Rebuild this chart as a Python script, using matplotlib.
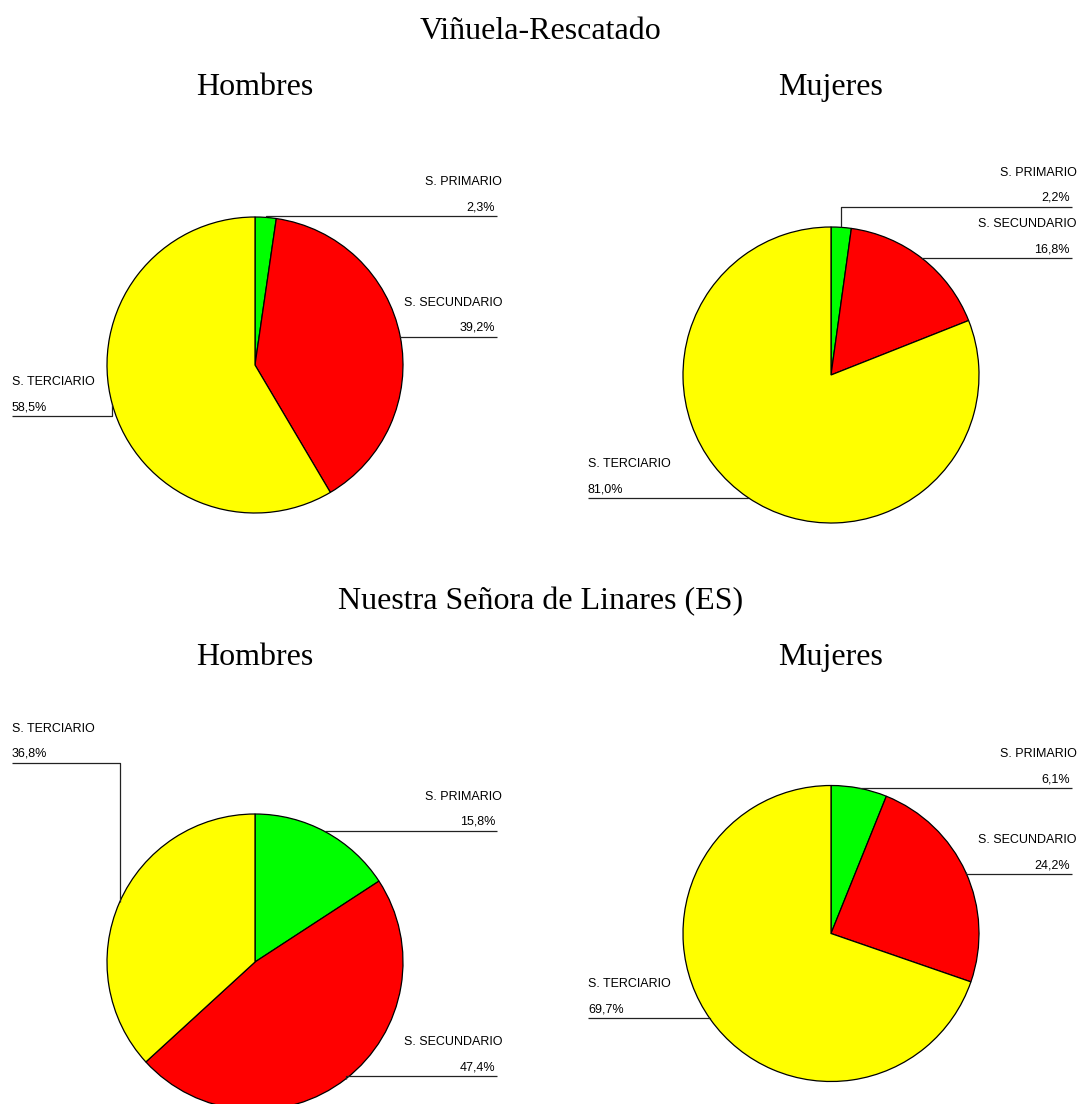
import numpy as np
import matplotlib
matplotlib.use("Agg")
import matplotlib.pyplot as plt

# datos (% de ocupados por sector)
sectores = ["S. PRIMARIO", "S. SECUNDARIO", "S. TERCIARIO"]
vin_hombres = [2.3, 39.2, 58.5]
vin_mujeres = [2.2, 16.8, 81.0]
lin_hombres = [15.8, 47.4, 36.8]
lin_mujeres = [6.1, 24.2, 69.7]

titulos = ["Viñuela-Rescatado", "Nuestra Señora de Linares (ES)"]
subtitulos = ["Hombres", "Mujeres"]
colores = ["#00ff00", "#ff0000", "#ffff00"]

# layout in pixels
W, H = 1082, 1104
R = 148
centros = [(255, 365), (831, 375), (255, 962), (831, 933.5)]
# (y of label line, outer x of label line) for each sector
lineas = [
    [(216, 497), (337, 497), (416, 12)],
    [(207, 1072), (258, 1072), (498, 588)],
    [(831, 497), (1076, 497), (763, 12)],
    [(788, 1072), (874, 1072), (1018, 588)],
]

fig = plt.figure(figsize=(W / 100, H / 100), dpi=100)
ax = fig.add_axes([0, 0, 1, 1])

serif = "Liberation Serif"
sans = "Liberation Sans"

def etiqueta(v):
    return ("%.1f" % v).replace(".", ",") + "%"

datos = [vin_hombres, vin_mujeres, lin_hombres, lin_mujeres]
for k, vals in enumerate(datos):
    cx, cy = centros[k]
    # y axis is inverted, so startangle=-90 + counterclock gives clockwise from top
    wedges, _ = ax.pie(vals, colors=colores, startangle=-90, counterclock=True,
                       center=(cx, cy), radius=R,
                       wedgeprops=dict(edgecolor="black", linewidth=0.9))
    for i, w in enumerate(wedges):
        ang = np.deg2rad((w.theta1 + w.theta2) / 2)
        px = cx + R * np.cos(ang)
        py = cy + R * np.sin(ang)
        ly, ox = lineas[k][i]
        ax.plot([px, px, ox], [py, ly, ly], color="#222222", lw=0.9,
                solid_capstyle="butt", zorder=3)
        if ox > cx:
            ax.text(ox + 5, ly - 31, sectores[i], ha="right", va="baseline",
                    fontsize=9, family=sans)
            ax.text(ox - 2, ly - 6, etiqueta(vals[i]), ha="right", va="baseline",
                    fontsize=9, family=sans)
        else:
            ax.text(ox, ly - 31, sectores[i], ha="left", va="baseline",
                    fontsize=9, family=sans)
            ax.text(ox, ly - 6, etiqueta(vals[i]), ha="left", va="baseline",
                    fontsize=9, family=sans)

# titles
ax.text(541, 39, titulos[0], ha="center", va="baseline", fontsize=23, family=serif)
ax.text(541, 609, titulos[1], ha="center", va="baseline", fontsize=23, family=serif)
for yb in (95, 665):
    ax.text(255, yb, subtitulos[0], ha="center", va="baseline", fontsize=23, family=serif)
    ax.text(831, yb, subtitulos[1], ha="center", va="baseline", fontsize=23, family=serif)

ax.set_xlim(0, W)
ax.set_ylim(H, 0)
ax.set_aspect("auto")
ax.axis("off")

fig.savefig("out.png", dpi=100, facecolor="white")
